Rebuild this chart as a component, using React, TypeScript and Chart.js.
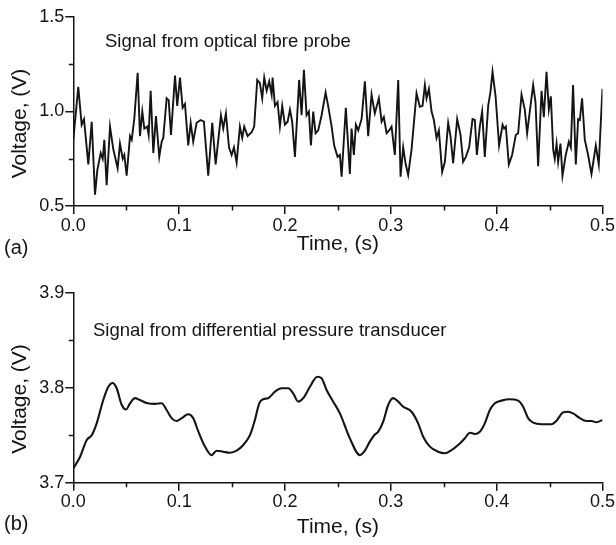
import React, { useEffect, useRef } from "react";
import { Chart, registerables } from "chart.js";

Chart.register(...registerables);

// ---------- data ----------
const TOP_T = [
  0.0, 0.0047, 0.0079, 0.0101, 0.0142, 0.0174, 0.0205, 0.0227, 0.0259, 0.0278,
  0.0293, 0.0315, 0.0347, 0.0378, 0.0419, 0.0441, 0.0467, 0.0482, 0.0504, 0.0536,
  0.0552, 0.0576, 0.0608, 0.063, 0.0652, 0.0671, 0.0699, 0.0712, 0.0731, 0.0756,
  0.0781, 0.0812, 0.0835, 0.085, 0.0882, 0.0901, 0.0923, 0.0961, 0.0982, 0.1008,
  0.1033, 0.1055, 0.1086, 0.1109, 0.1133, 0.1165, 0.1203, 0.1234, 0.1275, 0.1313,
  0.1345, 0.1395, 0.1417, 0.1442, 0.1471, 0.1496, 0.1518, 0.1543, 0.1574, 0.1596,
  0.1615, 0.1647, 0.1685, 0.1709, 0.1738, 0.1763, 0.1785, 0.1804, 0.1827, 0.1851,
  0.1874, 0.1883, 0.1905, 0.193, 0.1952, 0.1974, 0.1999, 0.2025, 0.2047, 0.2068,
  0.2094, 0.2134, 0.2157, 0.2179, 0.2204, 0.2226, 0.2245, 0.2267, 0.2289, 0.2314,
  0.2346, 0.2384, 0.2408, 0.2441, 0.2465, 0.2497, 0.2519, 0.2535, 0.2575, 0.2613,
  0.2629, 0.2651, 0.267, 0.2692, 0.2724, 0.2755, 0.2786, 0.2818, 0.2849, 0.2887,
  0.2913, 0.2934, 0.296, 0.2984, 0.3007, 0.3038, 0.307, 0.3092, 0.3117, 0.3139,
  0.3164, 0.3196, 0.3243, 0.3274, 0.33, 0.3322, 0.3338, 0.336, 0.3385, 0.3407,
  0.3432, 0.3454, 0.3485, 0.3511, 0.3542, 0.3564, 0.3589, 0.3627, 0.3659, 0.3683,
  0.3709, 0.374, 0.3772, 0.3794, 0.3813, 0.3841, 0.3863, 0.3888, 0.392, 0.3942,
  0.3961, 0.399, 0.4023, 0.4056, 0.4071, 0.4087, 0.4115, 0.4146, 0.4181, 0.4203,
  0.4235, 0.4266, 0.4288, 0.4313, 0.4345, 0.4367, 0.4392, 0.4424, 0.4446, 0.4471,
  0.4493, 0.4512, 0.4534, 0.4549, 0.4566, 0.4581, 0.4603, 0.4622, 0.4653, 0.4682,
  0.4701, 0.4722, 0.4748, 0.477, 0.4786, 0.4807, 0.4833, 0.4864, 0.4896, 0.4937,
  0.4965, 0.4984, 0.5,
];
const TOP_V = [
  0.85, 1.13, 0.93, 0.96, 0.72, 0.946, 0.56, 0.69, 0.78, 0.75,
  0.85, 0.61, 0.92, 0.8, 0.7, 0.83, 0.75, 0.77, 0.66, 0.87,
  0.85, 0.96, 1.205, 0.87, 1.0, 0.91, 0.92, 0.876, 1.11, 0.78,
  0.976, 0.76, 0.84, 0.86, 1.07, 1.06, 0.876, 1.19, 1.03, 1.18,
  1.02, 1.04, 0.82, 0.94, 0.84, 0.94, 0.955, 0.946, 0.66, 0.94,
  0.72, 0.98, 0.91, 0.99, 0.81, 0.77, 0.81, 0.73, 0.92, 0.86,
  0.92, 0.87, 0.89, 0.92, 1.167, 1.15, 1.07, 1.18, 1.11, 1.16,
  1.09, 1.18, 1.03, 1.05, 0.92, 1.03, 0.93, 0.946, 1.01, 0.946,
  0.76, 1.167, 0.98, 1.22, 0.98, 1.0, 0.82, 1.0, 0.885, 0.9,
  0.98, 1.1, 1.03, 0.92, 0.82, 0.76, 0.77, 0.655, 1.02, 0.67,
  0.91, 0.77, 0.93, 0.9, 0.96, 1.16, 0.87, 1.09, 0.99, 1.07,
  0.946, 0.97, 0.885, 0.9, 0.92, 0.77, 1.167, 0.655, 0.81, 0.726,
  0.664, 0.8, 1.096, 1.025, 1.03, 1.14, 1.07, 1.12, 1.0, 0.955,
  0.86, 0.9, 0.68, 0.734, 0.94, 0.87, 0.726, 0.96, 0.876, 0.734,
  0.76, 0.81, 0.96, 0.955, 0.77, 0.92, 1.0, 0.76, 1.03, 1.105,
  1.21, 1.08, 0.82, 0.93, 0.91, 0.92, 0.72, 0.77, 0.876, 0.885,
  1.09, 1.01, 0.885, 1.0, 1.14, 1.05, 0.71, 1.11, 0.97, 1.21,
  1.01, 1.08, 0.8, 0.75, 0.83, 0.734, 0.83, 0.66, 0.77, 0.84,
  0.81, 1.14, 0.72, 0.96, 0.955, 1.07, 0.85, 0.77, 0.67, 0.82,
  0.72, 0.94, 1.12,
];

const BOTTOM_T = [
  0.0, 0.0063, 0.0127, 0.0174, 0.0221, 0.0283, 0.0331, 0.0372, 0.041, 0.0457,
  0.0498, 0.0536, 0.0583, 0.063, 0.0693, 0.0772, 0.0835, 0.0882, 0.0929, 0.0977,
  0.1024, 0.1086, 0.1133, 0.1181, 0.1244, 0.1307, 0.1354, 0.1417, 0.148, 0.1543,
  0.1606, 0.1669, 0.1716, 0.1757, 0.1795, 0.1842, 0.1905, 0.1968, 0.2031, 0.2078,
  0.2125, 0.2172, 0.2236, 0.2305, 0.2346, 0.2393, 0.2456, 0.2519, 0.2613, 0.2708,
  0.2755, 0.2802, 0.2843, 0.2881, 0.2928, 0.2975, 0.3022, 0.307, 0.3117, 0.3196,
  0.3258, 0.3306, 0.3369, 0.3447, 0.3511, 0.3574, 0.3636, 0.3699, 0.3747, 0.3794,
  0.3841, 0.3888, 0.3936, 0.3983, 0.4046, 0.4124, 0.4203, 0.425, 0.4297, 0.4345,
  0.4424, 0.4518, 0.4566, 0.4628, 0.4675, 0.4722, 0.4786, 0.4849, 0.4896, 0.4943,
  0.5,
];
const BOTTOM_V = [
  3.715, 3.727, 3.745, 3.75, 3.7625, 3.787, 3.801, 3.805, 3.7994, 3.782,
  3.777, 3.7836, 3.789, 3.787, 3.784, 3.783, 3.7836, 3.7765, 3.768, 3.765,
  3.768, 3.772, 3.768, 3.754, 3.738, 3.729, 3.7337, 3.7326, 3.7316, 3.7337,
  3.7397, 3.75, 3.766, 3.7836, 3.788, 3.789, 3.7958, 3.7994, 3.7994, 3.794,
  3.7853, 3.789, 3.801, 3.8116, 3.81, 3.7976, 3.7853, 3.773, 3.7467, 3.729,
  3.7337, 3.7432, 3.75, 3.7537, 3.7642, 3.7818, 3.789, 3.7853, 3.78, 3.7747,
  3.7625, 3.7484, 3.738, 3.7326, 3.731, 3.7344, 3.7397, 3.7467, 3.7526, 3.7513,
  3.7537, 3.7625, 3.7765, 3.7836, 3.7864, 3.7878, 3.7864, 3.78, 3.768, 3.7632,
  3.7615, 3.7615, 3.7653, 3.774, 3.7747, 3.773, 3.768, 3.765, 3.765, 3.7636,
  3.766,
];

// tick values
const X_MIN = 0;
const X_MAX = 0.5;
const X_STEP = 0.1;
const X_MINOR = [0.05, 0.15, 0.25, 0.35, 0.45];
const TOP_Y_RANGE = [0.5, 1.5];
const TOP_Y_STEP = 0.5;
const TOP_Y_MINOR = [0.75, 1.25];
const BOTTOM_Y_RANGE = [3.7, 3.9];
const BOTTOM_Y_STEP = 0.1;
const BOTTOM_Y_MINOR = [3.75, 3.85];

// ---------- styling ----------
const FONT = '"Liberation Sans", Arial, Helvetica, sans-serif';
const INK = "#141414";
const W = 616;
const AREA_LEFT = 73.3;
const AREA_RIGHT = 602.7;

type TextItem = {
  text: string;
  x: number;
  y: number;
  size: number;
  align: CanvasTextAlign;
  baseline: CanvasTextBaseline;
  rotate?: number;
};

function minorTicksPlugin(xMinor: number[], yMinor: number[], len: number) {
  return {
    id: "minorTicks",
    afterDraw(chart: any) {
      const { ctx, chartArea, scales } = chart;
      ctx.save();
      ctx.strokeStyle = INK;
      ctx.lineWidth = 1.5;
      ctx.beginPath();
      xMinor.forEach((v) => {
        const p = Math.round(scales.x.getPixelForValue(v)) + 0.5;
        ctx.moveTo(p, chartArea.bottom);
        ctx.lineTo(p, chartArea.bottom + len);
      });
      yMinor.forEach((v) => {
        const p = Math.round(scales.y.getPixelForValue(v)) + 0.5;
        ctx.moveTo(chartArea.left, p);
        ctx.lineTo(chartArea.left - len, p);
      });
      ctx.stroke();
      ctx.restore();
    },
  };
}

function textPlugin(items: TextItem[]) {
  return {
    id: "annotText",
    afterDraw(chart: any) {
      const ctx = chart.ctx;
      items.forEach((it) => {
        ctx.save();
        ctx.fillStyle = INK;
        ctx.font = `${it.size}px ${FONT}`;
        ctx.textAlign = it.align;
        ctx.textBaseline = it.baseline;
        ctx.translate(it.x, it.y);
        if (it.rotate) ctx.rotate(it.rotate);
        ctx.fillText(it.text, 0, 0);
        ctx.restore();
      });
    },
  };
}

type PanelProps = {
  top: number;
  height: number;
  t: number[];
  v: number[];
  yRange: number[];
  yStep: number;
  yMinor: number[];
  areaTop: number;
  areaBottom: number;
  smooth: boolean;
  lineWidth: number;
  titlePadBottom: number;
  texts: TextItem[];
};

function Panel(props: PanelProps) {
  const ref = useRef<HTMLCanvasElement | null>(null);
  useEffect(() => {
    const p = props;
    const tickFont = { family: FONT, size: 18 };
    const grid = {
      drawOnChartArea: false,
      drawTicks: true,
      tickLength: 8,
      color: INK,
      lineWidth: 1.5,
    };
    const border = { display: true, color: INK, width: 1.5 };
    const chart = new Chart(ref.current as HTMLCanvasElement, {
      type: "line",
      data: {
        datasets: [
          {
            data: p.t.map((x, i) => ({ x, y: p.v[i] })),
            borderColor: INK,
            borderWidth: p.lineWidth,
            pointRadius: 0,
            fill: false,
            tension: p.smooth ? 0.4 : 0,
            cubicInterpolationMode: p.smooth ? "monotone" : "default",
          },
        ],
      },
      options: {
        animation: false,
        responsive: false,
        events: [],
        layout: {
          padding: { left: 0, right: W - AREA_RIGHT, top: p.areaTop, bottom: 0 },
        },
        plugins: {
          legend: { display: false },
          tooltip: { enabled: false },
        },
        scales: {
          x: {
            type: "linear",
            min: X_MIN,
            max: X_MAX,
            ticks: {
              stepSize: X_STEP,
              font: tickFont,
              color: INK,
              padding: 1,
              maxRotation: 0,
              autoSkip: false,
              callback: (val: any) => Number(val).toFixed(1),
            },
            grid,
            border,
            title: {
              display: true,
              text: "Time, (s)",
              color: INK,
              font: { family: FONT, size: 21 },
              padding: { top: 0, bottom: p.titlePadBottom },
            },
            afterFit: (s: any) => {
              s.height = p.height - p.areaBottom;
            },
          },
          y: {
            type: "linear",
            min: p.yRange[0],
            max: p.yRange[1],
            ticks: {
              stepSize: p.yStep,
              font: tickFont,
              color: INK,
              padding: 1,
              callback: (val: any) => Number(val).toFixed(1),
            },
            grid,
            border,
            afterFit: (s: any) => {
              s.width = AREA_LEFT;
            },
          },
        },
      } as any,
      plugins: [minorTicksPlugin(X_MINOR, p.yMinor, 4.5), textPlugin(p.texts)],
    });
    return () => chart.destroy();
  }, []);
  return (
    <canvas
      ref={ref}
      width={W}
      height={props.height}
      style={{ position: "absolute", left: 0, top: props.top, width: W, height: props.height, display: "block" }}
    />
  );
}

export default function App() {
  const rot = -Math.PI / 2;
  return (
    <div style={{ position: "absolute", left: 0, top: 0, width: W, height: 545, background: "#fff", overflow: "hidden" }}>
      <Panel
        top={0}
        height={270}
        t={TOP_T}
        v={TOP_V}
        yRange={TOP_Y_RANGE}
        yStep={TOP_Y_STEP}
        yMinor={TOP_Y_MINOR}
        areaTop={17}
        areaBottom={206}
        smooth={false}
        lineWidth={1.9}
        titlePadBottom={13.4}
        texts={[
          { text: "Signal from optical fibre probe", x: 105, y: 46.5, size: 18.5, align: "left", baseline: "alphabetic" },
          { text: "(a)", x: 4, y: 248, size: 20, align: "left", baseline: "middle" },
          { text: "Voltage, (V)", x: 20, y: 123.5, size: 21, align: "center", baseline: "middle", rotate: rot },
        ]}
      />
      <Panel
        top={270}
        height={275}
        t={BOTTOM_T}
        v={BOTTOM_V}
        yRange={BOTTOM_Y_RANGE}
        yStep={BOTTOM_Y_STEP}
        yMinor={BOTTOM_Y_MINOR}
        areaTop={22.7}
        areaBottom={212.7}
        smooth={true}
        lineWidth={2.1}
        titlePadBottom={5.4}
        texts={[
          { text: "Signal from differential pressure transducer", x: 93, y: 65.5, size: 18.5, align: "left", baseline: "alphabetic" },
          { text: "(b)", x: 4, y: 254, size: 20, align: "left", baseline: "middle" },
          { text: "Voltage, (V)", x: 20, y: 129, size: 21, align: "center", baseline: "middle", rotate: rot },
        ]}
      />
    </div>
  );
}
